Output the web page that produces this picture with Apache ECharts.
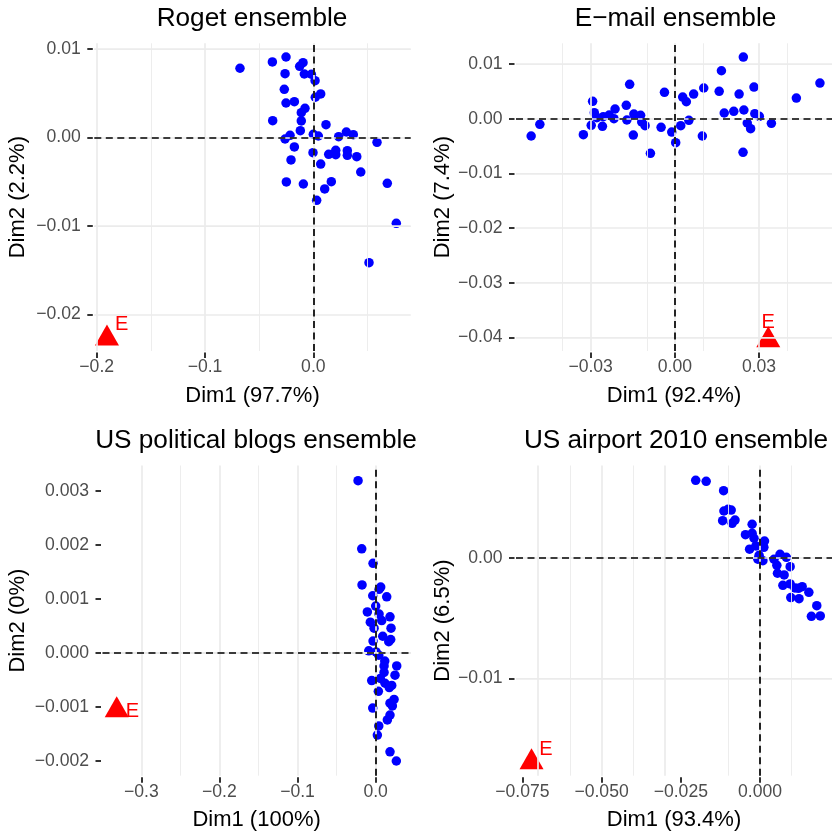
<!DOCTYPE html>
<html>
<head>
<meta charset="utf-8">
<script src="https://cdn.jsdelivr.net/npm/echarts@6/dist/echarts.min.js"></script>
<style>
  html, body { margin: 0; padding: 0; background: #ffffff; }
  #chart { width: 832px; height: 835px; }
</style>
</head>
<body>
<div id="chart"></div>
<script>
// ---- Roget ensemble: ensemble members on the first two dimensions ----
const rogetDim1 = [-0.0677, -0.0378, -0.0252, -0.0126, -0.0095, -0.0261, -0.0083, -0.0018, 0.0016, -0.0268,
  0.0068, 0.0018, -0.0252, -0.0175, -0.0077, -0.0111, -0.0111, -0.0375, 0.0117, -0.0120,
  0.0000, 0.0046, -0.0215, -0.0261, 0.0305, 0.0369, 0.0234, 0.0588, -0.0175, -0.0003,
  0.0142, 0.0207, 0.0207, 0.0314, 0.0314, 0.0401, -0.0206, 0.0068, 0.0438, -0.0249,
  -0.0092, 0.0166, 0.0105, 0.0683, 0.0031, 0.0766, 0.0514];
const rogetDim2 = [0.00784, 0.00855, 0.00911, 0.00806, 0.00847, 0.00723, 0.00719, 0.00716, 0.00643, 0.00546,
  0.00493, 0.00456, 0.00391, 0.00406, 0.00331, 0.00282, 0.00188, 0.00191, 0.00146, 0.00078,
  0.00037, 0.00018, 0.00026, -0.00016, 0.00063, 0.00033, 0.00010, -0.00053, -0.00106, -0.00171,
  -0.00189, -0.00144, -0.00193, -0.00148, -0.00200, -0.00216, -0.00253, -0.00299, -0.00389, -0.00502,
  -0.00525, -0.00499, -0.00581, -0.00517, -0.00709, -0.00969, -0.01415];
const rogetE = [-0.1905, -0.0227];

// ---- E-mail ensemble ----
const emailDim1 = [-0.0512, -0.0481, -0.0326, -0.0293, -0.0287, -0.0298, -0.0278, -0.0258, -0.0255, -0.0234,
  -0.0217, -0.0213, -0.0173, -0.0171, -0.0161, -0.0146, -0.0122, -0.0118, -0.0106, -0.0148,
  -0.0087, -0.0049, -0.0037, -0.0011, 0.0003, 0.0021, 0.0028, 0.0041, 0.0050, 0.0067,
  0.0098, 0.0103, 0.0158, 0.0166, 0.0176, 0.0210, 0.0229, 0.0244, 0.0246, 0.0243,
  0.0258, 0.0270, 0.0282, 0.0285, 0.0301, 0.0344, 0.0433, 0.0517];
const emailDim2 = [-0.00317, -0.00103, -0.00293, 0.00318, 0.00109, -0.00121, 0.00018, -0.00140, 0.00036, 0.00067,
  0.00000, 0.00177, 0.00245, -0.00024, 0.00629, 0.00085, 0.00062, -0.00061, -0.00129, -0.00299,
  -0.00633, -0.00158, 0.00482, -0.00244, -0.00440, -0.00129, 0.00396, 0.00310, -0.00030, 0.00451,
  -0.00317, 0.00561, 0.00501, 0.00877, 0.00104, 0.00135, 0.00451, 0.01128, 0.00159, -0.00615,
  -0.00079, -0.00183, 0.00579, 0.00091, 0.00043, -0.00085, 0.00378, 0.00652];
const emailE = [0.0333, -0.0405];

// ---- US political blogs ensemble ----
const blogsDim1 = [-0.0225, -0.0178, -0.0033, -0.0174, 0.0065, 0.0044, -0.0037, 0.0142, 0.0001, -0.0106,
  0.0044, 0.0184, -0.0068, 0.0078, 0.0197, -0.0020, 0.0091, 0.0193, 0.0168, -0.0033,
  -0.0088, 0.0005, 0.0040, 0.0117, 0.0270, 0.0108, 0.0248, 0.0108, -0.0050, 0.0060,
  0.0120, 0.0175, 0.0206, 0.0035, 0.0236, 0.0184, 0.0214, -0.0037, 0.0184, 0.0150,
  0.0040, 0.0022, 0.0184, 0.0265];
const blogsDim2 = [0.00319, 0.00193, 0.00166, 0.00126, 0.00122, 0.00118, 0.00106, 0.00104, 0.00087, 0.00076,
  0.00072, 0.00067, 0.00057, 0.00060, 0.00046, 0.00046, 0.00031, 0.00025, 0.00021, 0.00022,
  0.00004, 0.00002, -0.00004, -0.00015, -0.00024, -0.00024, -0.00041, -0.00036, -0.00051, -0.00047,
  -0.00056, -0.00064, -0.00060, -0.00071, -0.00086, -0.00093, -0.00098, -0.00102, -0.00115, -0.00124,
  -0.00135, -0.00152, -0.00183, -0.00200];
const blogsE = [-0.3315, -0.00106];

// ---- US airport 2010 ensemble ----
const airportDim1 = [-0.0203, -0.0170, -0.0115, -0.0114, -0.0101, -0.0091, -0.0118, -0.0088, -0.0079, -0.0025,
  -0.0046, -0.0025, -0.0019, -0.0033, -0.0013, 0.0014, 0.0012, -0.0007, 0.0009, -0.0003,
  0.0044, 0.0063, 0.0083, 0.0053, 0.0095, 0.0055, 0.0076, 0.0072, 0.0095, 0.0110,
  0.0133, 0.0154, 0.0097, 0.0123, 0.0179, 0.0162, 0.0190, 0.0121];
const airportDim2 = [0.00641, 0.00633, 0.00555, 0.00387, 0.00401, 0.00395, 0.00307, 0.00285, 0.00312, 0.00277,
  0.00191, 0.00202, 0.00161, 0.00070, 0.00097, 0.00138, 0.00086, -0.00013, -0.00025, 0.00020,
  -0.00013, 0.00028, 0.00003, -0.00063, -0.00075, -0.00129, -0.00143, -0.00229, -0.00218, -0.00251,
  -0.00240, -0.00287, -0.00331, -0.00340, -0.00398, -0.00486, -0.00483, -0.00254];
const airportE = [-0.0721, -0.01695];

// ---- tick values and their printed labels ----
const rogetXTicks = [-0.2, -0.1, 0.0];
const rogetXLabels = ['\u22120.2', '\u22120.1', '0.0'];
const rogetYTicks = [0.01, 0.0, -0.01, -0.02];
const rogetYLabels = ['0.01', '0.00', '\u22120.01', '\u22120.02'];

const emailXTicks = [-0.03, 0.0, 0.03];
const emailXLabels = ['\u22120.03', '0.00', '0.03'];
const emailYTicks = [0.01, 0.0, -0.01, -0.02, -0.03, -0.04];
const emailYLabels = ['0.01', '0.00', '\u22120.01', '\u22120.02', '\u22120.03', '\u22120.04'];

const blogsXTicks = [-0.3, -0.2, -0.1, 0.0];
const blogsXLabels = ['\u22120.3', '\u22120.2', '\u22120.1', '0.0'];
const blogsYTicks = [0.003, 0.002, 0.001, 0.0, -0.001, -0.002];
const blogsYLabels = ['0.003', '0.002', '0.001', '0.000', '\u22120.001', '\u22120.002'];

const airportXTicks = [-0.075, -0.05, -0.025, 0.0];
const airportXLabels = ['\u22120.075', '\u22120.050', '\u22120.025', '0.000'];
const airportYTicks = [0.0, -0.01];
const airportYLabels = ['0.00', '\u22120.01'];

// minor grid positions (halfway between major ticks)
const rogetXMinor = [-0.15, -0.05, 0.05];
const rogetYMinor = [0.005, -0.005, -0.015];
const emailXMinor = [-0.045, -0.015, 0.015, 0.045];
const emailYMinor = [0.005, -0.005, -0.015, -0.025, -0.035];
const blogsXMinor = [-0.25, -0.15, -0.05];
const blogsYMinor = [0.0025, 0.0015, 0.0005, -0.0005, -0.0015];
const airportXMinor = [-0.0625, -0.0375, -0.0125, 0.0125];
const airportYMinor = [0.005, -0.005, -0.015];

const FONT = '"Liberation Sans", Arial, Helvetica, sans-serif';

const panels = [
  {
    title: 'Roget ensemble', xName: 'Dim1 (97.7%)', yName: 'Dim2 (2.2%)',
    dim1: rogetDim1, dim2: rogetDim2, anchor: rogetE,
    xTicks: rogetXTicks, xLabels: rogetXLabels, yTicks: rogetYTicks, yLabels: rogetYLabels,
    xMinor: rogetXMinor, yMinor: rogetYMinor,
    xRange: [-0.2022, 0.0899], yRange: [-0.02413, 0.01066],
    box: { left: 94.3, top: 43.3, width: 316.4, height: 307.7 },
    titlePos: [252, 19], yGap: 64, eOffset: [14.7, -10.4]
  },
  {
    title: 'E\u2212mail ensemble', xName: 'Dim1 (92.4%)', yName: 'Dim2 (7.4%)',
    dim1: emailDim1, dim2: emailDim2, anchor: emailE,
    xTicks: emailXTicks, xLabels: emailXLabels, yTicks: emailYTicks, yLabels: emailYLabels,
    xMinor: emailXMinor, yMinor: emailYMinor,
    xRange: [-0.0566, 0.0560], yRange: [-0.0425, 0.01379],
    box: { left: 516, top: 43.3, width: 316, height: 307.7 },
    titlePos: [675.5, 19], yGap: 61, eOffset: [0, -13.9]
  },
  {
    title: 'US political blogs ensemble', xName: 'Dim1 (100%)', yName: 'Dim2 (0%)',
    dim1: blogsDim1, dim2: blogsDim2, anchor: blogsE,
    xTicks: blogsXTicks, xLabels: blogsXLabels, yTicks: blogsYTicks, yLabels: blogsYLabels,
    xMinor: blogsXMinor, yMinor: blogsYMinor,
    xRange: [-0.3497, 0.0449], yRange: [-0.002272, 0.003472],
    box: { left: 102.5, top: 465.5, width: 308.2, height: 310.2 },
    titlePos: [256, 440.5], yGap: 72.5, eOffset: [15.6, 4.4]
  },
  {
    title: 'US airport 2010 ensemble', xName: 'Dim1 (93.4%)', yName: 'Dim2 (6.5%)',
    dim1: airportDim1, dim2: airportDim2, anchor: airportE,
    xTicks: airportXTicks, xLabels: airportXLabels, yTicks: airportYTicks, yLabels: airportYLabels,
    xMinor: airportXMinor, yMinor: airportYMinor,
    xRange: [-0.0770, 0.0227], yRange: [-0.01807, 0.00764],
    box: { left: 516, top: 465.5, width: 316, height: 310.2 },
    titlePos: [676, 441], yGap: 60.5, eOffset: [14.3, -9.5]
  }
];

function labelFor(ticks, labels) {
  return function (v) {
    let best = 0;
    for (let i = 1; i < ticks.length; i++) {
      if (Math.abs(ticks[i] - v) < Math.abs(ticks[best] - v)) best = i;
    }
    return labels[best];
  };
}

const gridList = [], xAxes = [], yAxes = [], series = [], graphics = [];

const majorStyle = { color: '#EBEBEB', width: 1.7, type: 'solid' };
const minorStyle = { color: '#EBEBEB', width: 0.9, type: 'solid' };
const zeroStyle = { color: '#000000', width: 1.7, type: [7, 4.5] };
const tickStyle = { color: '#333333', width: 2 };

panels.forEach(function (p, i) {
  gridList.push(Object.assign({ containLabel: false }, p.box));

  xAxes.push({
    type: 'value', gridIndex: i, min: p.xRange[0], max: p.xRange[1],
    position: 'bottom', offset: 1.5,
    axisLine: { show: false, onZero: false },
    splitLine: { show: false },
    axisTick: { show: true, customValues: p.xTicks, length: 5.5, lineStyle: tickStyle },
    axisLabel: {
      customValues: p.xTicks, formatter: labelFor(p.xTicks, p.xLabels),
      color: '#4D4D4D', fontSize: 17.6, fontFamily: FONT, margin: 5.5
    },
    name: p.xName, nameLocation: 'middle', nameGap: 32,
    nameTextStyle: { color: '#000000', fontSize: 22, fontFamily: FONT }
  });

  yAxes.push({
    type: 'value', gridIndex: i, min: p.yRange[0], max: p.yRange[1],
    position: 'left', offset: 1.5,
    axisLine: { show: false, onZero: false },
    splitLine: { show: false },
    axisTick: { show: true, customValues: p.yTicks, length: 5.5, lineStyle: tickStyle },
    axisLabel: {
      customValues: p.yTicks, formatter: labelFor(p.yTicks, p.yLabels),
      color: '#4D4D4D', fontSize: 17.6, fontFamily: FONT, margin: 12
    },
    name: p.yName, nameLocation: 'middle', nameGap: p.yGap,
    nameTextStyle: { color: '#000000', fontSize: 22, fontFamily: FONT }
  });

  // background grid: minor and major lines
  const gridLines = [];
  p.xMinor.forEach(function (v) { gridLines.push({ xAxis: v, lineStyle: minorStyle }); });
  p.yMinor.forEach(function (v) { gridLines.push({ yAxis: v, lineStyle: minorStyle }); });
  p.xTicks.forEach(function (v) { gridLines.push({ xAxis: v, lineStyle: majorStyle }); });
  p.yTicks.forEach(function (v) { gridLines.push({ yAxis: v, lineStyle: majorStyle }); });

  series.push({
    type: 'scatter', xAxisIndex: i, yAxisIndex: i, data: [], z: 1, silent: true,
    markLine: {
      silent: true, animation: false, symbol: ['none', 'none'], label: { show: false },
      emphasis: { disabled: true }, data: gridLines
    }
  });

  // dashed reference lines through the origin
  series.push({
    type: 'scatter', xAxisIndex: i, yAxisIndex: i, data: [], z: 2, silent: true,
    markLine: {
      silent: true, animation: false, symbol: ['none', 'none'], label: { show: false },
      emphasis: { disabled: true },
      data: [{ xAxis: 0, lineStyle: zeroStyle }, { yAxis: 0, lineStyle: zeroStyle }]
    }
  });

  // ensemble members
  series.push({
    type: 'scatter', xAxisIndex: i, yAxisIndex: i, z: 3, clip: false, animation: false,
    symbol: 'circle', symbolSize: 9.5,
    itemStyle: { color: '#0000FF', opacity: 1 },
    data: p.dim1.map(function (x, k) { return [x, p.dim2[k]]; })
  });

  // the "E" reference point
  series.push({
    type: 'scatter', xAxisIndex: i, yAxisIndex: i, z: 4, clip: false, animation: false,
    symbol: 'triangle', symbolSize: [24, 21], symbolOffset: [0, -3.4],
    itemStyle: { color: '#FF0000', opacity: 1 },
    label: {
      show: true, formatter: 'E', position: 'inside', offset: p.eOffset,
      color: '#FF0000', fontSize: 20, fontFamily: FONT, align: 'center', verticalAlign: 'middle'
    },
    data: [p.anchor]
  });

  graphics.push({
    type: 'text', x: p.titlePos[0], y: p.titlePos[1], silent: true,
    style: {
      text: p.title, fill: '#000000', font: '26.2px ' + FONT,
      align: 'center', verticalAlign: 'middle'
    }
  });
});

const chart = echarts.init(document.getElementById('chart'), null, { renderer: 'canvas' });
chart.setOption({
  backgroundColor: '#ffffff',
  animation: false,
  grid: gridList,
  xAxis: xAxes,
  yAxis: yAxes,
  series: series,
  graphic: graphics
});
</script>
</body>
</html>
